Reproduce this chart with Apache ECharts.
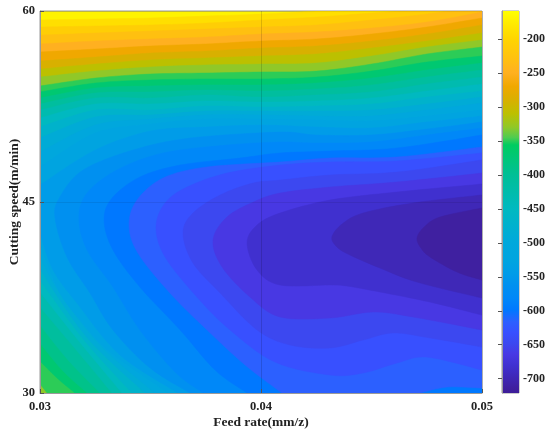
<!DOCTYPE html>
<html><head><meta charset="utf-8">
<style>html,body{margin:0;padding:0;background:#fff}#c{width:550px;height:436px}</style>
<script src="https://cdn.jsdelivr.net/npm/echarts@6/dist/echarts.min.js"></script>
</head><body><div id="c"></div>
<script>
const feedTicks=[0.03,0.04,0.05];
const speedTicks=[30,45,60];
const barTicks=[-700,-650,-600,-550,-500,-450,-400,-350,-300,-250,-200];
const barMin=-721, barMax=-159;
const feedStations=[0.03,0.0325,0.035,0.0375,0.04,0.0425,0.045,0.0475,0.05];
// colour map: [value, colour]
const colorMap=[[-721,'#3c1c98'],[-713,'#3f20a0'],[-697,'#3f28b8'],[-681,'#4030d0'],[-664,'#4838e4'],[-648,'#3c48f0'],[-632,'#3850ff'],[-616,'#2c60ff'],[-599,'#0078ff'],[-581,'#0088f8'],[-563,'#0090f0'],[-545,'#009ce8'],[-527,'#00a4e0'],[-500,'#00a8dc'],[-450,'#00b9c0'],[-400,'#00bf96'],[-356,'#00cc60'],[-345,'#50cc50'],[-330,'#90c828'],[-310,'#bcc000'],[-290,'#d8b000'],[-270,'#f0a800'],[-250,'#ffb020'],[-230,'#ffc010'],[-200,'#ffd500'],[-180,'#ffe800'],[-159,'#ffff00']];
// contour levels, highest first
const upperLevels=[-180,-200,-220,-240,-260,-280,-300,-320,-340,-360,-380,-400,-420,-440,-460,-480,-500,-518,-536];
// speed of each upper contour at feedStations
const upperSpeeds=[
[59.29,59.37,59.45,59.60,59.76,60.00,60.31,60.62,60.86],
[58.74,58.82,58.90,59.05,59.29,59.52,59.84,60.15,60.47],
[58.11,58.27,58.43,58.58,58.74,58.90,59.29,59.76,60.39],
[57.41,57.64,57.80,57.95,58.19,58.35,58.66,59.13,59.92],
[56.78,57.01,57.25,57.41,57.64,57.80,58.19,58.74,59.45],
[56.07,56.38,56.70,56.85,57.09,57.25,57.64,58.19,58.90],
[55.44,55.83,56.15,56.31,56.46,56.62,57.09,57.64,58.27],
[54.81,55.28,55.60,55.76,55.83,55.91,56.46,57.17,57.72],
[54.11,54.73,55.05,55.13,55.21,55.28,55.83,56.62,57.17],
[53.64,54.34,54.58,54.66,54.66,54.81,55.28,55.99,56.46],
[53.16,53.95,54.11,54.19,54.19,54.34,54.73,55.36,55.91],
[52.69,53.56,53.64,53.79,53.71,53.87,54.19,54.81,55.36],
[52.22,53.16,53.16,53.40,53.24,53.40,53.64,54.26,54.81],
[51.59,52.69,52.69,52.93,52.85,52.93,53.16,53.71,54.26],
[50.89,52.22,52.22,52.54,52.46,52.54,52.69,53.24,53.71],
[50.02,51.67,51.83,52.14,52.14,52.14,52.22,52.69,53.24],
[48.92,51.04,51.51,51.83,51.83,51.75,51.75,52.22,52.77],
[47.75,50.42,51.12,51.51,51.51,51.44,51.36,51.75,52.22],
[46.33,49.08,50.57,50.89,51.04,50.89,50.81,51.28,51.75]];
// lower-left part of those contours, from bottom edge to left edge (absent for the first eight)
const lowerLeft={
'-340':[[.03032,30],[.03,30.7]],
'-360':[[.03158,30],[.03077,31.18],[.03,32.51]],
'-380':[[.03213,30],[.031,31.80],[.03,33.92]],
'-400':[[.03272,30],[.03127,32.59],[.03,35.34]],
'-420':[[.03326,30],[.03145,33.77],[.03,36.75]],
'-440':[[.03371,30],[.03172,34.16],[.03,37.93]],
'-460':[[.03416,30],[.03199,34.16],[.03,38.87]],
'-480':[[.03475,30],[.03235,33.92],[.0309,37.30],[.03,39.81]],
'-500':[[.0352,30],[.03272,33.77],[.03081,38.09],[.03,40.76]],
'-518':[[.03579,30],[.03317,33.22],[.0319,35.57],[.0309,37.85],[.03,41.62]],
'-536':[[.03624,30],[.03362,32.98],[.03167,37.07],[.03059,39.66],[.03,42.56]]};
// closed nose contours, right edge round the tip and back
const cornerBR=[[.05,30]];
const nose554=[[.05,51.28],[.04751,50.73],[.04498,50.26],[.04249,50.26],[.04086,50.49],[.03679,50.02],[.03421,49.08],[.03195,47.51],[.0309,45.39],[.03068,43.74],[.03122,40.68],[.03226,37.85],[.0333,34.95],[.03498,31.96],[.03679,30]];
const nose572=[[.05,50.81],[.04751,50.26],[.04498,49.71],[.04249,49.63],[.04086,49.71],[.03846,49.47],[.03557,48.85],[.03348,47.51],[.03213,45.70],[.03176,43.74],[.03213,41.23],[.0333,38.32],[.03452,34.95],[.03611,31.65],[.03738,30]];
const nose590=[[.05,50.26],[.04615,49.24],[.04312,49.00],[.04086,48.85],[.03905,48.45],[.03634,47.90],[.03452,46.96],[.03326,45.31],[.0329,43.58],[.0333,41.23],[.03452,38.32],[.03634,34.95],[.03792,31.80],[.03937,30]];
const nose608=[[.05,49.32],[.04615,48.53],[.04312,48.45],[.04086,48.14],[.03756,47.75],[.03557,46.88],[.03439,45.15],[.03403,43.19],[.03443,40.99],[.03588,37.85],[.03756,34.95],[.03928,32.20],[.04095,30]];
const patch608=[[.0472,30],[.04842,30.47],[.05,30.39]];
const nose625=[[.05,48.85],[.04615,48.22],[.04312,48.14],[.04086,47.90],[.03846,47.27],[.03665,46.17],[.03566,44.92],[.03525,43.03],[.03566,40.68],[.0371,37.54],[.0386,34.95],[.04063,32.43],[.04312,31.41],[.04462,31.57],[.04615,32.35],[.04751,32.82],[.05,31.80]];
const nose640=[[.05,48.30],[.04615,47.35],[.04312,47.12],[.04086,46.72],[.03964,46.49],[.03815,45.55],[.03692,44.13],[.03647,42.56],[.03692,40.21],[.03815,37.85],[.03982,34.95],[.04131,33.77],[.04312,33.53],[.04462,34.16],[.04597,34.71],[.04765,34.32],[.05,33.61]];
const nose656=[[.05,47.27],[.04615,46.57],[.04312,46.17],[.04086,45.70],[.03964,44.98],[.03846,43.82],[.03783,42.01],[.03824,39.89],[.0395,37.54],[.04086,35.97],[.04312,35.89],[.04507,36.36],[.04688,35.97],[.05,34.95]];
const nose673=[[.05,46.41],[.04615,45.78],[.04312,45.15],[.04086,44.13],[.03982,43.19],[.03937,41.78],[.03982,39.66],[.04086,38.48],[.04312,38.48],[.04389,38.40],[.04539,37.93],[.04765,37.14],[.05,36.12]];
const nose690=[[.05,45.55],[.04688,44.92],[.04462,44.13],[.04367,43.27],[.04321,42.25],[.04344,41.46],[.04403,40.83],[.04539,39.81],[.04706,38.71],[.05,37.46]];
const nose705=[[.05,44.53],[.0481,43.82],[.04738,43.03],[.04706,42.17],[.04724,41.38],[.04765,40.68],[.04887,39.50],[.05,38.87]];
const noseLevels=[-554,-572,-590,-608,-625,-640,-656,-673,-690,-705];
const nosePaths=[[nose554,cornerBR],[nose572,cornerBR],[nose590,cornerBR],[nose608,patch608],[nose625],[nose640],[nose656],[nose673],[nose690],[nose705]];

function hex(c){return [1,3,5].map(i=>parseInt(c.substr(i,2),16));}
function colorAt(v){
  for(let i=1;i<colorMap.length;i++){
    if(v<=colorMap[i][0]){
      const a=colorMap[i-1],b=colorMap[i],t=(v-a[0])/(b[0]-a[0]),p=hex(a[1]),q=hex(b[1]);
      return 'rgb('+p.map((u,k)=>Math.round(u+(q[k]-u)*t)).join(',')+')';
    }
  }
  return colorMap[colorMap.length-1][1];
}
// assemble the region below each contour, painted from the highest level down
const contours=[];
upperLevels.forEach((lv,i)=>{
  const top=feedStations.map((f,k)=>[f,upperSpeeds[i][k]]);
  const low=lowerLeft[lv];
  contours.push({level:lv,paths:low?[top,cornerBR,low]:[top,[[.05,30],[.03,30]]]});
});
noseLevels.forEach((lv,i)=>contours.push({level:lv,paths:nosePaths[i]}));
const allLevels=contours.map(c=>c.level);
function spline(pts){
  if(pts.length<3) return pts;
  const out=[];
  for(let i=0;i<pts.length-1;i++){
    const p0=pts[Math.max(i-1,0)],p1=pts[i],p2=pts[i+1],p3=pts[Math.min(i+2,pts.length-1)];
    for(let s=0;s<8;s++){
      const t=s/8,t2=t*t,t3=t2*t;
      out.push([0,1].map(k=>0.5*(2*p1[k]+(p2[k]-p0[k])*t+(2*p0[k]-5*p1[k]+4*p2[k]-p3[k])*t2+(3*p1[k]-p0[k]-3*p2[k]+p3[k])*t3)));
    }
  }
  out.push(pts[pts.length-1]);
  return out;
}
const font='"Liberation Serif","Times New Roman",serif';
const txt={fontFamily:font,fontWeight:'bold',fontSize:12.5,color:'#222'};
const line={lineStyle:{color:'#9a9a9a',width:1}};
const stops=colorMap.map(s=>({offset:(s[0]-barMin)/(barMax-barMin),color:s[1]}));
const chart=echarts.init(document.getElementById('c'),null,{renderer:'canvas'});
chart.setOption({
  animation:false,
  backgroundColor:'#fff',
  grid:[
    {left:40,top:11,width:442,height:382,outerBoundsMode:'none',show:true,backgroundColor:colorAt(-170),borderColor:'#9a9a9a',borderWidth:1},
    {left:502,top:11,width:17,height:382,outerBoundsMode:'none',show:true,borderColor:'#9a9a9a',borderWidth:1}
  ],
  xAxis:[
    {type:'value',gridIndex:0,min:feedTicks[0],max:feedTicks[2],interval:0.01,z:5,
     name:'Feed rate(mm/z)',nameLocation:'middle',nameGap:23,nameMoveOverlap:false,nameTextStyle:Object.assign({},txt,{fontSize:13.5}),
     axisLine:line,axisTick:{inside:true,length:4,lineStyle:{color:'#555'}},
     axisLabel:Object.assign({},txt,{margin:7,formatter:v=>v.toFixed(2)}),
     splitLine:{show:true,lineStyle:{color:'rgba(0,0,0,0.14)',width:1}}},
    {type:'value',gridIndex:1,min:0,max:1,show:false}
  ],
  yAxis:[
    {type:'value',gridIndex:0,min:speedTicks[0],max:speedTicks[2],interval:15,z:5,
     name:'Cutting speed(m/min)',nameLocation:'middle',nameGap:18,nameMoveOverlap:false,nameRotate:90,nameTextStyle:Object.assign({},txt,{fontSize:13.5}),
     axisLine:line,axisTick:{inside:true,length:4,lineStyle:{color:'#555'}},
     axisLabel:Object.assign({},txt,{margin:5}),
     splitLine:{show:true,lineStyle:{color:'rgba(0,0,0,0.08)',width:1}}},
    {type:'value',gridIndex:1,position:'right',min:barMin,max:barMax,z:5,
     axisLine:line,
     axisTick:{inside:true,length:4,customValues:barTicks,lineStyle:{color:'#555'}},
     axisLabel:Object.assign({},txt,{margin:4,customValues:barTicks,fontSize:12}),
     splitLine:{show:false}}
  ],
  series:[
    {type:'custom',xAxisIndex:0,yAxisIndex:0,clip:true,silent:true,
     data:contours.map((c,i)=>[i]),
     renderItem:(params,api)=>{
       const i=api.value(0),c=contours[i];
       const next=i+1<allLevels.length?allLevels[i+1]:barMin;
       const fill=colorAt((c.level+next)/2);
       const pts=[];
       c.paths.forEach(p=>spline(p.map(q=>api.coord(q))).forEach(q=>pts.push(q)));
       return {type:'polygon',shape:{points:pts},style:{fill:fill,stroke:fill,lineWidth:0.5}};
     }},
    {type:'custom',xAxisIndex:1,yAxisIndex:1,clip:true,silent:true,
     data:[[0,barMin,barMax]],
     renderItem:(params,api)=>{
       const a=api.coord([0,api.value(2)]),b=api.coord([1,api.value(1)]);
       return {type:'rect',shape:{x:a[0],y:a[1],width:b[0]-a[0],height:b[1]-a[1]},
         style:{fill:new echarts.graphic.LinearGradient(0,1,0,0,stops)}};
     }}
  ]
});
</script></body></html>
